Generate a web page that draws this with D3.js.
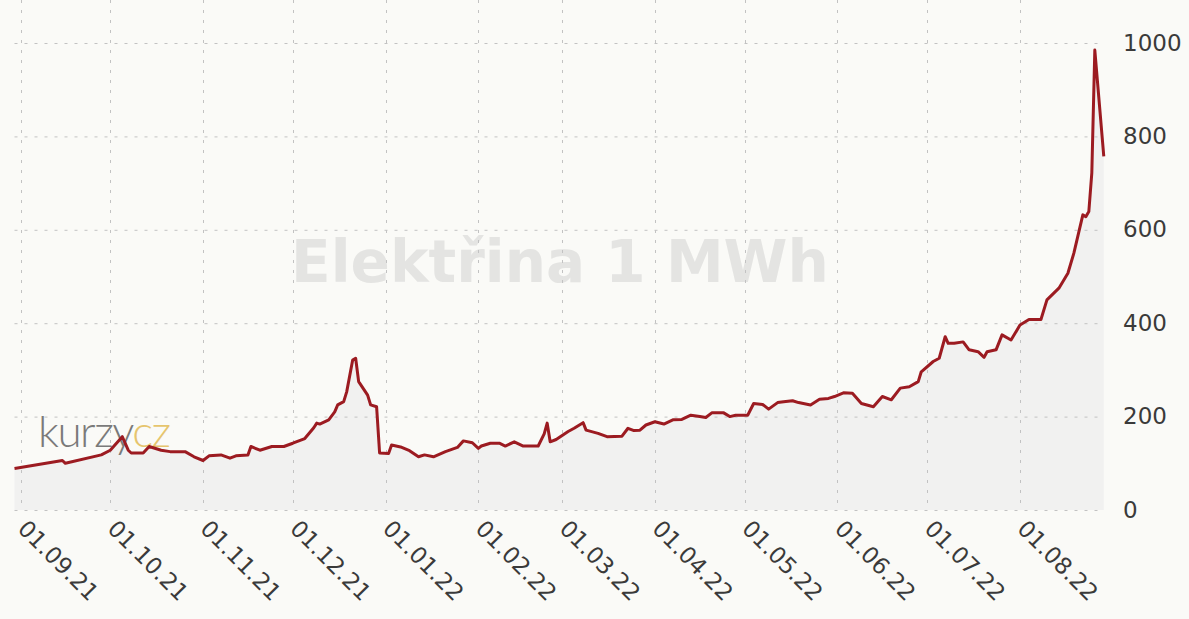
<!DOCTYPE html>
<html>
<head>
<meta charset="utf-8">
<script src="https://cdn.jsdelivr.net/npm/d3@7"></script>
<style>
    html, body { margin: 0; padding: 0; background: #fafaf7; }
    svg { display: block; font-family: "DejaVu Sans", Verdana, sans-serif; }
    .grid line { stroke: #c2c2c2; stroke-width: 1; stroke-dasharray: 3 7; }
    .axis-label { fill: #3a3a3a; font-size: 23px; }
</style>
</head>
<body>
<svg id="chart"></svg>
<script>
// Daily price of 1 MWh (EUR)
const dates = [
    "2021-08-30", "2021-09-15", "2021-09-16", "2021-09-28", "2021-10-01", "2021-10-05", "2021-10-07",
    "2021-10-08", "2021-10-12", "2021-10-14", "2021-10-18", "2021-10-21", "2021-10-26", "2021-10-29",
    "2021-11-01", "2021-11-03", "2021-11-07", "2021-11-10", "2021-11-12", "2021-11-16", "2021-11-17",
    "2021-11-20", "2021-11-24", "2021-11-28", "2021-12-01", "2021-12-05", "2021-12-08", "2021-12-09",
    "2021-12-10", "2021-12-13", "2021-12-15", "2021-12-16", "2021-12-18", "2021-12-19", "2021-12-21",
    "2021-12-22", "2021-12-23", "2021-12-26", "2021-12-27", "2021-12-29", "2021-12-30", "2022-01-02",
    "2022-01-03", "2022-01-06", "2022-01-09", "2022-01-12", "2022-01-14", "2022-01-17", "2022-01-21",
    "2022-01-25", "2022-01-27", "2022-01-30", "2022-02-01", "2022-02-02", "2022-02-05", "2022-02-08",
    "2022-02-10", "2022-02-13", "2022-02-16", "2022-02-21", "2022-02-23", "2022-02-24", "2022-02-25",
    "2022-02-27", "2022-03-03", "2022-03-05", "2022-03-08", "2022-03-09", "2022-03-13", "2022-03-16",
    "2022-03-21", "2022-03-23", "2022-03-25", "2022-03-27", "2022-03-29", "2022-04-01", "2022-04-04",
    "2022-04-07", "2022-04-10", "2022-04-13", "2022-04-16", "2022-04-18", "2022-04-20", "2022-04-24",
    "2022-04-26", "2022-04-28", "2022-05-02", "2022-05-04", "2022-05-07", "2022-05-09", "2022-05-12",
    "2022-05-14", "2022-05-17", "2022-05-19", "2022-05-23", "2022-05-26", "2022-05-29", "2022-05-31",
    "2022-06-03", "2022-06-06", "2022-06-09", "2022-06-13", "2022-06-16", "2022-06-19", "2022-06-22",
    "2022-06-25", "2022-06-28", "2022-06-29", "2022-07-03", "2022-07-05", "2022-07-07", "2022-07-08",
    "2022-07-10", "2022-07-13", "2022-07-15", "2022-07-18", "2022-07-20", "2022-07-21", "2022-07-24",
    "2022-07-26", "2022-07-29", "2022-08-01", "2022-08-04", "2022-08-08", "2022-08-10", "2022-08-14",
    "2022-08-17", "2022-08-19", "2022-08-22", "2022-08-23", "2022-08-24", "2022-08-25", "2022-08-26",
    "2022-08-29"
];

const prices = [
    89, 106, 100, 118, 128, 157, 128,
    122, 122, 136, 128, 125, 125, 114,
    106, 116, 118, 111, 116, 118, 136,
    128, 136, 136, 143, 153, 176, 186,
    184, 193, 210, 225, 232, 253, 321,
    325, 275, 246, 225, 221, 122, 121,
    139, 135, 127, 114, 118, 114, 125,
    134, 148, 144, 132, 137, 143, 143,
    137, 146, 137, 137, 163, 186, 146,
    151, 168, 175, 187, 171, 164, 157,
    158, 175, 170, 171, 182, 189, 184,
    193, 194, 203, 200, 198, 208, 208,
    200, 203, 203, 228, 226, 216, 230,
    232, 234, 230, 225, 237, 239, 243,
    251, 250, 228, 221, 243, 236, 261,
    264, 275, 296, 318, 325, 371, 357,
    357, 360, 343, 339, 327, 339, 343,
    375, 364, 396, 408, 408, 450, 475,
    507, 550, 632, 628, 639, 722, 985,
    757
];

const monthTicks = [
    "2021-09-01", "2021-10-01", "2021-11-01", "2021-12-01", "2022-01-01", "2022-02-01",
    "2022-03-01", "2022-04-01", "2022-05-01", "2022-06-01", "2022-07-01", "2022-08-01"
];
const yTicks = [0, 200, 400, 600, 800, 1000];

const chartTitle = "Elektřina 1 MWh";

const width = 1189;
const height = 619;

const svg = d3.select("#chart").attr("width", width).attr("height", height);

const parse = d3.timeParse("%Y-%m-%d");
const formatTick = d3.timeFormat("%d.%m.%y");
const series = dates.map((d, i) => ({ date: parse(d), value: prices[i] }));
const tickDates = monthTicks.map(parse);

// month gridlines sit ~3 px per day, Sep 1 at 20.5 and Aug 1 at 1020
const x = d3.scaleTime().domain([tickDates[0], tickDates[tickDates.length - 1]]).range([20.5, 1020]);
const y = d3.scaleLinear().domain([0, 1000]).range([510, 43]);

const xStart = x(series[0].date);
const xEnd = x(series[series.length - 1].date);

svg.append("rect").attr("width", width).attr("height", height).attr("fill", "#fafaf7");

// area under the line
svg.append("path")
    .datum(series)
    .attr("fill", "#f1f1f0")
    .attr("d", d3.area().x((d) => x(d.date)).y0(y(0)).y1((d) => y(d.value)));

// watermark title
svg.append("text")
    .attr("x", 560)
    .attr("y", 282)
    .attr("text-anchor", "middle")
    .attr("font-size", 58)
    .attr("font-weight", "bold")
    .attr("fill", "#e4e4e2")
    .text(chartTitle);

// gridlines
const grid = svg.append("g").attr("class", "grid");
grid.selectAll("line.h")
    .data(yTicks)
    .join("line")
    .attr("class", "h")
    .attr("x1", xStart)
    .attr("x2", xEnd)
    .attr("y1", (d) => y(d) + 0.5)
    .attr("y2", (d) => y(d) + 0.5);

grid.selectAll("line.v")
    .data(tickDates)
    .join("line")
    .attr("class", "v")
    .attr("x1", (d) => Math.round(x(d)) + 0.5)
    .attr("x2", (d) => Math.round(x(d)) + 0.5)
    .attr("y1", 0)
    .attr("y2", y(0));

// kurzy.cz logo
const logo = svg.append("text")
    .attr("x", 38)
    .attr("y", 447)
    .attr("font-family", "Lato, 'Open Sans', sans-serif")
    .attr("font-weight", 300)
    .attr("font-size", 44)
    .attr("letter-spacing", -1.5);
logo.append("tspan").attr("fill", "#7a7a7a").text("kurzy");
logo.append("tspan").attr("fill", "#e6c56e").text("cz");

// price line
svg.append("path")
    .datum(series)
    .attr("fill", "none")
    .attr("stroke", "#9c1b21")
    .attr("stroke-width", 3)
    .attr("stroke-linejoin", "round")
    .attr("d", d3.line().x((d) => x(d.date)).y((d) => y(d.value)));

// y labels on the right
svg.append("g")
    .selectAll("text")
    .data(yTicks)
    .join("text")
    .attr("class", "axis-label")
    .attr("x", 1123)
    .attr("y", (d) => y(d) + 1)
    .attr("dominant-baseline", "middle")
    .text((d) => d);

// rotated date labels
svg.append("g")
    .selectAll("text")
    .data(tickDates)
    .join("text")
    .attr("class", "axis-label")
    .attr("transform", (d) => `translate(${x(d) - 4},530) rotate(45)`)
    .text((d) => formatTick(d));
</script>
</body>
</html>
